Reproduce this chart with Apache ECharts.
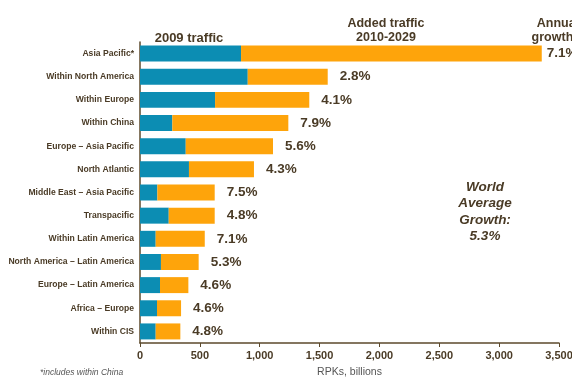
<!DOCTYPE html>
<html>
<head>
<meta charset="utf-8">
<script src="https://cdn.jsdelivr.net/npm/echarts@6/dist/echarts.min.js"></script>
<style>
html, body { margin: 0; padding: 0; background: #fff; }
#chart { width: 572px; height: 378px; }
</style>
</head>
<body>
<div id="chart"></div>
<script>
// routes, top to bottom
var routes = ["Asia Pacific*", "Within North America", "Within Europe", "Within China",
    "Europe \u2013 Asia Pacific", "North Atlantic", "Middle East \u2013 Asia Pacific", "Transpacific",
    "Within Latin America", "North America \u2013 Latin America", "Europe \u2013 Latin America",
    "Africa \u2013 Europe", "Within CIS"];
var traffic2009 = [844, 900, 627, 270, 382, 409, 145, 240, 131, 175, 167, 142, 131];
var addedTraffic = [2512, 668, 787, 969, 729, 543, 479, 384, 410, 315, 237, 201, 206];
var growth = ["7.1%", "2.8%", "4.1%", "7.9%", "5.6%", "4.3%", "7.5%", "4.8%", "7.1%", "5.3%", "4.6%", "4.6%", "4.8%"];

var textColor = "#4a3b26";
var axisColor = "#5c4a2c";

// category axis is drawn bottom-up, so reverse
var cats = routes.slice().reverse();
var blueData = traffic2009.slice().reverse();
var orangeData = [];
for(var i = addedTraffic.length - 1; i >= 0; i--){
    var item = {
        value: addedTraffic[i],
        label: {formatter: growth[i]}
    };
    if(i == 0){
        item.label.distance = 5;  // the top label sits close to the bar
    }
    orangeData.push(item);
}

var myChart = echarts.init(document.getElementById("chart"));
myChart.setOption({
    animation: false,
    backgroundColor: "#fff",
    grid: {left: 140, right: 13, top: 42, bottom: 35, outerBoundsMode: "none", containLabel: false},
    xAxis: {
        type: "value",
        min: 0,
        max: 3500,
        interval: 500,
        splitLine: {show: false},
        axisLine: {show: true, lineStyle: {color: axisColor, width: 1.5}},
        axisTick: {show: true, length: 4, lineStyle: {color: axisColor}},
        axisLabel: {
            color: textColor,
            fontFamily: "Liberation Sans",
            fontWeight: "bold",
            fontSize: 11,
            margin: 7,
            formatter: function(v){ return v.toLocaleString("en-US"); }
        },
        name: "RPKs, billions",
        nameLocation: "middle",
        nameGap: 24,
        nameTextStyle: {color: "#555", fontFamily: "Liberation Sans", fontSize: 10.5}
    },
    yAxis: {
        type: "category",
        data: cats,
        axisLine: {show: true, lineStyle: {color: axisColor, width: 1.5}},
        axisTick: {show: false},
        axisLabel: {
            color: textColor,
            fontFamily: "Liberation Sans",
            fontWeight: "bold",
            fontSize: 8.6,
            margin: 6
        }
    },
    series: [
        {
            name: "2009 traffic",
            type: "bar",
            stack: "t",
            data: blueData,
            barCategoryGap: "31%",
            itemStyle: {color: "#0c8db3"}
        },
        {
            name: "Added traffic 2010-2029",
            type: "bar",
            stack: "t",
            data: orangeData,
            itemStyle: {color: "#fea40b"},
            label: {
                show: true,
                position: "right",
                distance: 12,
                color: textColor,
                fontFamily: "Liberation Sans",
                fontWeight: "bold",
                fontSize: 13.5
            }
        }
    ],
    graphic: [
        {
            type: "text", x: 189, y: 38,
            style: {text: "2009 traffic", fill: textColor, font: "bold 13px 'Liberation Sans'", textAlign: "center", textVerticalAlign: "middle"}
        },
        {
            type: "text", x: 386, y: 31,
            style: {text: "Added traffic\n2010-2029", fill: textColor, font: "bold 12.5px 'Liberation Sans'", textAlign: "center", textVerticalAlign: "middle", lineHeight: 14}
        },
        {
            type: "text", x: 558, y: 31,
            style: {text: "Annual\ngrowth%", fill: textColor, font: "bold 12.5px 'Liberation Sans'", textAlign: "center", textVerticalAlign: "middle", lineHeight: 14}
        },
        {
            type: "text", x: 485, y: 212,
            style: {text: "World\nAverage\nGrowth:\n5.3%", fill: textColor, font: "italic bold 13.5px 'Liberation Sans'", textAlign: "center", textVerticalAlign: "middle", lineHeight: 16.5}
        },
        {
            type: "text", x: 40, y: 373,
            style: {text: "*includes within China", fill: "#555", font: "italic 8.5px 'Liberation Sans'", textAlign: "left", textVerticalAlign: "middle"}
        }
    ]
});
</script>
</body>
</html>
